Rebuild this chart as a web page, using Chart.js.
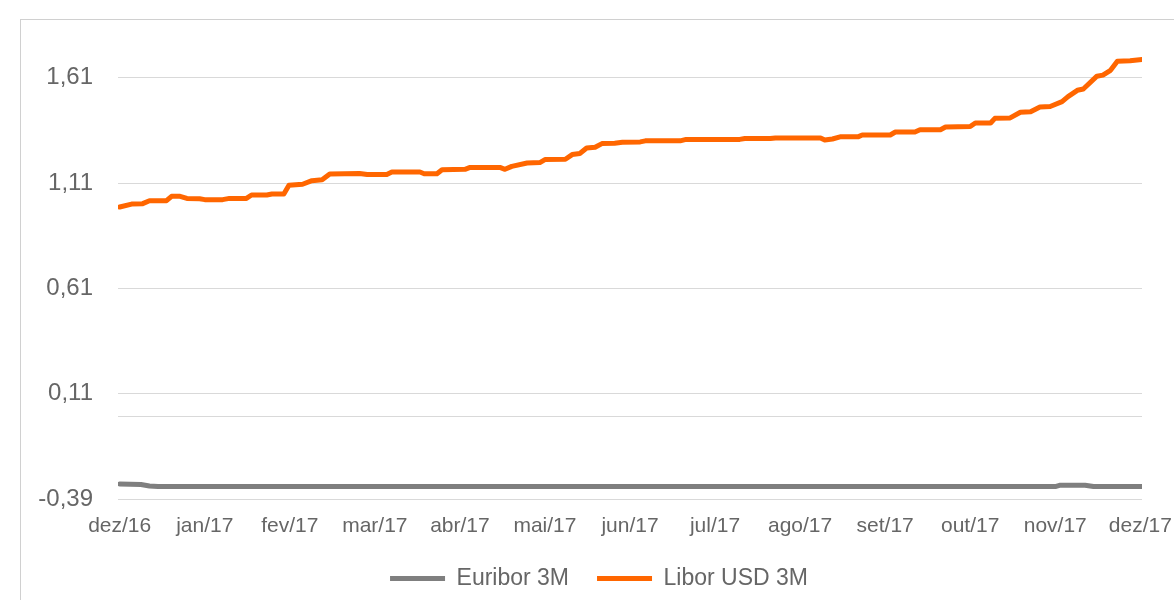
<!DOCTYPE html>
<html>
<head>
<meta charset="utf-8">
<script src="https://cdn.jsdelivr.net/npm/chart.js@4"></script>
<style>
  body { margin: 0; background: #fff; overflow: hidden; }
  .frame { position: absolute; left: 20px; top: 19px; width: 2000px; height: 1000px; border: 1px solid #d0d0d0; }
  .wrap { position: absolute; left: 0; top: 0; width: 1174px; height: 600px; }
</style>
</head>
<body>
<div class="frame"></div>
<div class="wrap"><canvas id="ratesChart"></canvas></div>
<script>
// month labels, x = months since dez/16
const monthLabels = ['dez/16', 'jan/17', 'fev/17', 'mar/17', 'abr/17', 'mai/17', 'jun/17',
    'jul/17', 'ago/17', 'set/17', 'out/17', 'nov/17', 'dez/17'];
const yTicks = [-0.39, 0, 0.11, 0.61, 1.11, 1.61];

const euriborX = [0, 0.25, 0.35, 0.45, 11.0, 11.05, 11.35, 11.45, 12.02];
const euriborY = [-0.319, -0.321, -0.328, -0.331, -0.331, -0.325, -0.325, -0.331, -0.331];

const liborX = [0, 0.14, 0.27, 0.35, 0.55, 0.61, 0.71, 0.79, 0.94, 1.00, 1.21, 1.29, 1.49, 1.55, 1.73,
    1.79, 1.93, 1.99, 2.15, 2.26, 2.38, 2.47, 2.82, 2.91, 3.14, 3.20, 3.53, 3.58, 3.73, 3.79,
    4.06, 4.12, 4.47, 4.53, 4.61, 4.79, 4.94, 5.00, 5.24, 5.32, 5.41, 5.49, 5.59, 5.67, 5.82,
    5.91, 6.12, 6.18, 6.59, 6.66, 7.29, 7.35, 7.65, 7.71, 8.24, 8.29, 8.38, 8.47, 8.68, 8.73,
    9.06, 9.12, 9.35, 9.41, 9.65, 9.71, 10.00, 10.06, 10.24, 10.29, 10.47, 10.59, 10.71, 10.82,
    10.94, 11.08, 11.15, 11.26, 11.33, 11.49, 11.56, 11.65, 11.73, 11.88, 12.02];
const liborY = [0.996, 1.010, 1.012, 1.026, 1.026, 1.047, 1.047, 1.037, 1.035, 1.031, 1.031, 1.037, 1.037, 1.053, 1.053,
    1.058, 1.058, 1.099, 1.104, 1.121, 1.125, 1.153, 1.155, 1.150, 1.150, 1.162, 1.162, 1.154, 1.154, 1.173,
    1.175, 1.184, 1.184, 1.175, 1.189, 1.205, 1.207, 1.221, 1.223, 1.245, 1.250, 1.276, 1.280, 1.297, 1.299,
    1.303, 1.305, 1.310, 1.310, 1.317, 1.317, 1.321, 1.321, 1.324, 1.324, 1.314, 1.319, 1.329, 1.329, 1.338,
    1.338, 1.352, 1.352, 1.363, 1.363, 1.376, 1.378, 1.395, 1.395, 1.417, 1.419, 1.446, 1.448, 1.471,
    1.473, 1.496, 1.520, 1.550, 1.556, 1.617, 1.622, 1.645, 1.688, 1.690, 1.696];

const toPoints = (xs, ys) => xs.map((x, i) => ({ x: x, y: ys[i] }));

const family = "'Liberation Sans', Arial, sans-serif";
const textColor = '#666666';

// the legend in the original is centred on the whole (wider) chart frame
const legendShift = {
    id: 'legendShift',
    afterLayout: chart => {
        chart.legend.left += 28;
        chart.legend.right += 28;
    }
};

const ctx = document.getElementById('ratesChart').getContext('2d');
new Chart(ctx, {
    type: 'line',
    data: {
        datasets: [{
            label: 'Euribor 3M',
            data: toPoints(euriborX, euriborY),
            borderColor: '#7f7f7f',
            backgroundColor: '#7f7f7f',
            borderWidth: 5,
            borderCapStyle: 'round',
            borderJoinStyle: 'round',
            pointRadius: 0
        }, {
            label: 'Libor USD 3M',
            data: toPoints(liborX, liborY),
            borderColor: '#ff6600',
            backgroundColor: '#ff6600',
            borderWidth: 5,
            borderCapStyle: 'round',
            borderJoinStyle: 'round',
            pointRadius: 0
        }]
    },
    plugins: [legendShift],
    options: {
        responsive: true,
        maintainAspectRatio: false,
        animation: false,
        layout: { padding: { top: 25, right: 32, bottom: 0 } },
        plugins: {
            tooltip: { enabled: false },
            legend: {
                position: 'bottom',
                labels: {
                    usePointStyle: true,
                    pointStyle: 'line',
                    pointStyleWidth: 55,
                    boxHeight: 23,
                    padding: 28,
                    color: textColor,
                    font: { family: family, size: 23 }
                }
            }
        },
        scales: {
            x: {
                type: 'linear',
                min: -0.02,
                max: 12.02,
                grid: { display: false, drawTicks: false },
                border: { display: false },
                afterBuildTicks: scale => { scale.ticks = monthLabels.map((l, i) => ({ value: i })); },
                afterFit: scale => {
                    scale.paddingLeft = 0;
                    scale.paddingRight = 0;
                    scale.height = 40;
                },
                ticks: {
                    autoSkip: false,
                    maxRotation: 0,
                    padding: 15,
                    color: textColor,
                    font: { family: family, size: 21 },
                    callback: value => monthLabels[value]
                }
            },
            y: {
                min: -0.39,
                max: 1.86,
                grid: { color: '#d9d9d9', lineWidth: 1, drawTicks: false },
                border: { display: false },
                afterBuildTicks: scale => { scale.ticks = yTicks.map(v => ({ value: v })); },
                afterFit: scale => {
                    scale.width = 118;
                    scale.paddingTop = 0;
                    scale.paddingBottom = 0;
                },
                ticks: {
                    padding: 25,
                    color: textColor,
                    font: { family: family, size: 24 },
                    callback: value => value === 0 ? '' : value.toFixed(2).replace('.', ',')
                }
            }
        }
    }
});
</script>
</body>
</html>
